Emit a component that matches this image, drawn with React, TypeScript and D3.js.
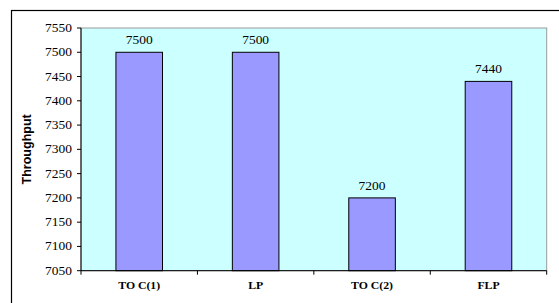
import { useRef, useEffect } from 'react';
import * as d3 from 'd3';

const categories = ['TO C(1)', 'LP', 'TO C(2)', 'FLP'];
const throughput = [7500, 7500, 7200, 7440];
const yTicks = [7050, 7100, 7150, 7200, 7250, 7300, 7350, 7400, 7450, 7500, 7550];

const serif = '"Liberation Serif", "Times New Roman", serif';

export default function App() {
  const svgRef = useRef<SVGSVGElement>(null);

  useEffect(() => {
    if (!svgRef.current) return;
    const width = 559;
    const height = 303;
    const plot = { left: 81, top: 28, right: 546.7, bottom: 270.7 };

    d3.select(svgRef.current).selectAll('*').remove();
    const svg = d3.select(svgRef.current).attr('width', width).attr('height', height);

    svg.append('rect').attr('width', width).attr('height', height).attr('fill', '#ffffff');

    // outer chart border (right and bottom are cut off)
    svg
      .append('rect')
      .attr('x', 11.5)
      .attr('y', 10.5)
      .attr('width', 560)
      .attr('height', 310)
      .attr('fill', 'none')
      .attr('stroke', '#000')
      .attr('stroke-width', 1.2);

    const x = d3.scaleBand().domain(categories).range([plot.left, plot.right]);
    const y = d3.scaleLinear().domain([7050, 7550]).range([plot.bottom, plot.top]);

    // plot area
    svg
      .append('rect')
      .attr('x', plot.left)
      .attr('y', plot.top)
      .attr('width', plot.right - plot.left)
      .attr('height', plot.bottom - plot.top)
      .attr('fill', '#ccffff')
      .attr('stroke', '#9a9a9a')
      .attr('stroke-width', 1);

    // bars
    const barW = x.bandwidth() * 0.4;
    svg
      .append('g')
      .selectAll('rect')
      .data(categories)
      .join('rect')
      .attr('x', (d) => (x(d) || 0) + (x.bandwidth() - barW) / 2)
      .attr('y', (d, i) => y(throughput[i]))
      .attr('width', barW)
      .attr('height', (d, i) => plot.bottom - y(throughput[i]))
      .attr('fill', '#9999ff')
      .attr('stroke', '#000')
      .attr('stroke-width', 1);

    // value labels
    svg
      .append('g')
      .selectAll('text')
      .data(categories)
      .join('text')
      .attr(
        'transform',
        (d, i) => `translate(${(x(d) || 0) + x.bandwidth() / 2}, ${y(throughput[i]) - 8}) scale(1.17, 1)`
      )
      .attr('text-anchor', 'middle')
      .attr('font-family', serif)
      .attr('font-size', '11.5px')
      .attr('fill', '#000')
      .text((d, i) => throughput[i]);

    // y axis
    const yAxis = svg.append('g');
    yAxis
      .append('line')
      .attr('x1', plot.left)
      .attr('x2', plot.left)
      .attr('y1', plot.top)
      .attr('y2', plot.bottom)
      .attr('stroke', '#000');
    yAxis
      .selectAll('line.tick')
      .data(yTicks)
      .join('line')
      .attr('class', 'tick')
      .attr('x1', plot.left - 4)
      .attr('x2', plot.left)
      .attr('y1', (d) => y(d))
      .attr('y2', (d) => y(d))
      .attr('stroke', '#000');
    yAxis
      .selectAll('text')
      .data(yTicks)
      .join('text')
      .attr('transform', (d) => `translate(${plot.left - 9}, ${y(d)}) scale(1.17, 1)`)
      .attr('dy', '0.35em')
      .attr('text-anchor', 'end')
      .attr('font-family', serif)
      .attr('font-size', '11.5px')
      .attr('fill', '#000')
      .text((d) => d);

    // x axis
    const xAxis = svg.append('g');
    xAxis
      .append('line')
      .attr('x1', plot.left)
      .attr('x2', plot.right)
      .attr('y1', plot.bottom)
      .attr('y2', plot.bottom)
      .attr('stroke', '#000');
    xAxis
      .selectAll('line.tick')
      .data([...categories.map((c) => x(c) || 0), plot.right])
      .join('line')
      .attr('class', 'tick')
      .attr('x1', (d) => d)
      .attr('x2', (d) => d)
      .attr('y1', plot.bottom)
      .attr('y2', plot.bottom + 4)
      .attr('stroke', '#000');
    xAxis
      .selectAll('text')
      .data(categories)
      .join('text')
      .attr('transform', (d) => `translate(${(x(d) || 0) + x.bandwidth() / 2}, 289) scale(1.07, 1)`)
      .attr('text-anchor', 'middle')
      .attr('font-family', serif)
      .attr('font-size', '11px')
      .attr('font-weight', 'bold')
      .attr('fill', '#000')
      .text((d) => d);

    // y title
    svg
      .append('text')
      .attr('transform', `translate(31, ${(plot.top + plot.bottom) / 2}) rotate(-90)`)
      .attr('text-anchor', 'middle')
      .attr('font-family', '"Liberation Sans", Arial, sans-serif')
      .attr('font-size', '12.5px')
      .attr('font-weight', 'bold')
      .attr('fill', '#000')
      .text('Throughput');
  }, []);

  return (
    <div style={{ position: 'absolute', left: 0, top: 0 }}>
      <svg ref={svgRef} style={{ display: 'block' }} />
    </div>
  );
}
